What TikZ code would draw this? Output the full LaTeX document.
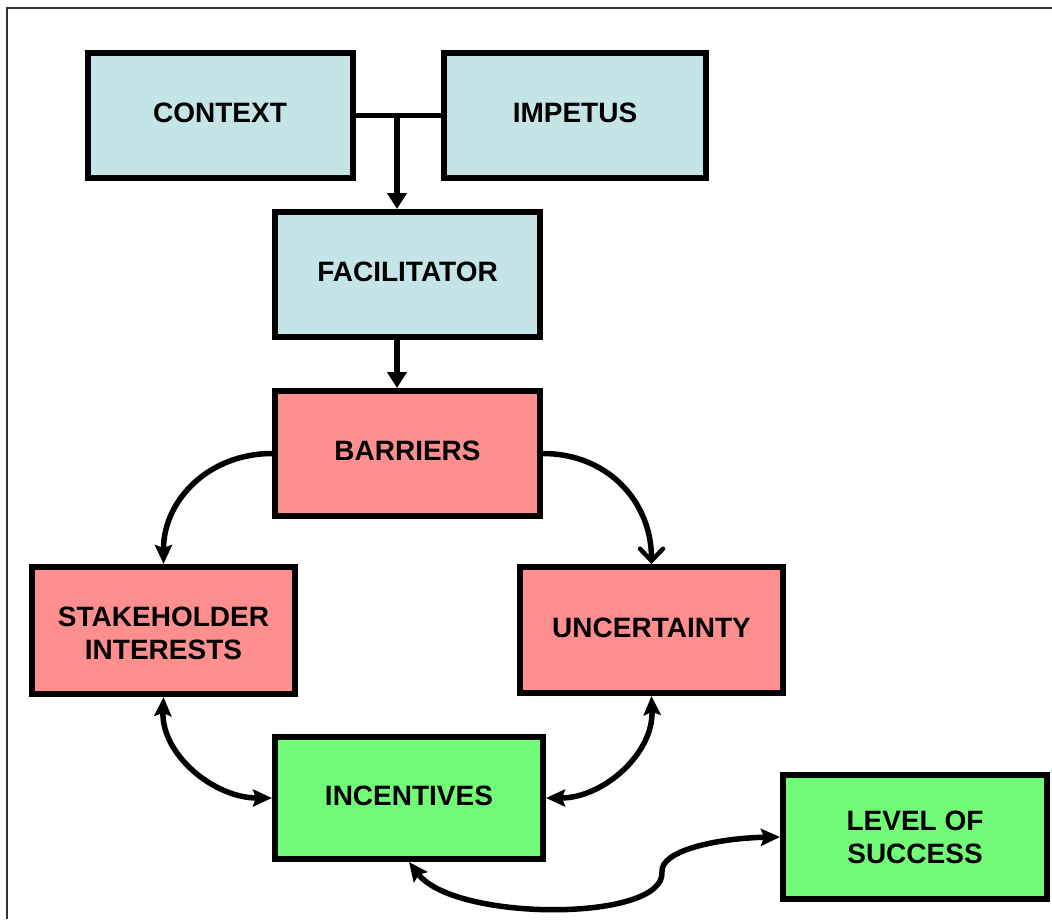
\documentclass[tikz,border=0pt]{standalone}
\usepackage{fontspec}
\setmainfont{Liberation Sans}
\usetikzlibrary{arrows.meta}
\definecolor{boxblue}{HTML}{C4E4E7}
\definecolor{boxpink}{HTML}{FF8F8F}
\definecolor{boxgreen}{HTML}{72FB77}
\tikzset{
  box/.style={draw=black, line width=6pt, inner sep=0pt, align=center, text depth=5pt,
    font=\fontsize{28}{33}\selectfont\bfseries},
  twoline/.style={text height=#1, text depth=0pt},
  conn/.style={line width=5.5pt, black},
  filltip/.style={-{Triangle[length=16pt,width=19pt]}},
  curvetip/.style={-{Stealth[length=19pt,width=17pt,inset=3pt]}},
  dbltip/.style={{Stealth[length=19pt,width=17pt,inset=3pt]}-{Stealth[length=19pt,width=17pt,inset=3pt]}},
  opentip/.style={-{Straight Barb[length=12pt,width=23pt,line width=4.5pt,line cap=round]}},
}
\begin{document}
\begin{tikzpicture}[x=1pt,y=-1pt]
\useasboundingbox (0,0) rectangle (1052,919);
\fill[white] (0,0) rectangle (1052,919);
% frame
\coordinate (ftl) at (7,8);
\coordinate (ftr) at (1052,8);
\coordinate (fbl) at (7,919);
\draw[line width=1.5pt, black!80] (ftr) -- (ftl) -- (fbl);
% boxes
\node[box, fill=boxblue, minimum width=265pt, minimum height=125pt] (context) at (220,115.5) {CONTEXT};
\node[box, fill=boxblue, minimum width=262pt, minimum height=125pt] (impetus) at (575,115.5) {IMPETUS};
\node[box, fill=boxblue, minimum width=265pt, minimum height=125pt] (facilitator) at (407.5,274.5) {FACILITATOR};
\node[box, fill=boxpink, minimum width=265pt, minimum height=125pt] (barriers) at (407.5,453.5) {BARRIERS};
\node[box, twoline=57pt, fill=boxpink, minimum width=263pt, minimum height=127pt] (stake) at (163.5,630.5) {STAKEHOLDER\\INTERESTS};
\node[box, fill=boxpink, minimum width=263pt, minimum height=126pt] (uncert) at (651.5,630) {UNCERTAINTY};
\node[box, fill=boxgreen, minimum width=268pt, minimum height=122pt] (incent) at (409,798) {INCENTIVES};
\node[box, twoline=53pt, fill=boxgreen, minimum width=264pt, minimum height=124pt] (level) at (915,837) {LEVEL OF\\SUCCESS};
% top connectors
\coordinate (j) at (397,115.5);
\draw[conn] (context.east) -- (impetus.west);
\draw[conn, filltip] (j) -- (j |- facilitator.north);
\draw[conn, filltip] (facilitator.south -| j) -- (barriers.north -| j);
% barriers to stakeholder / uncertainty
\draw[conn, curvetip] (barriers.west) to[out=180, in=90, looseness=1.05] (stake.north);
\draw[conn, opentip] (barriers.east) to[out=0, in=90, looseness=1.05] (uncert.north);
% stakeholder / uncertainty <-> incentives
\draw[conn, dbltip] (stake.south) to[out=-92, in=180, looseness=1] (incent.west);
\draw[conn, dbltip] (uncert.south) to[out=-88, in=0, looseness=1] (incent.east);
% incentives <-> level of success
\coordinate (k) at (662,872);
\draw[conn, dbltip] (incent.south) .. controls (455,922) and (665,922) .. (k)
   .. controls (660,850) and (720,838) .. (level.west);
\end{tikzpicture}
\end{document}
